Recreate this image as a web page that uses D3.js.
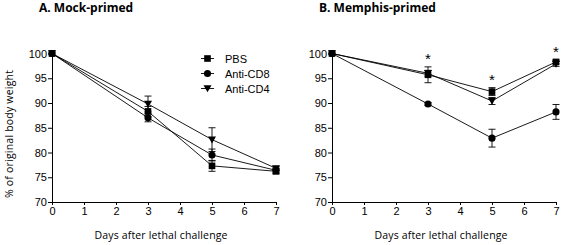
<!DOCTYPE html>
<html>
<head>
<meta charset="utf-8">
<script src="https://cdn.jsdelivr.net/npm/d3@7"></script>
<style>
  body { margin: 0; background: #fff; }
  svg { display: block; }
  .tick text { font-family: "Liberation Sans", Arial, sans-serif; font-size: 11px; fill: #000; }
  .domain, .tick line { stroke: #000; stroke-width: 1; }
</style>
</head>
<body>
<div id="chart"></div>
<script>
// days on the x axis
const days = [0, 3, 5, 7];
const series = ['PBS', 'Anti-CD8', 'Anti-CD4'];
const yTicks = [70, 75, 80, 85, 90, 95, 100];
const xTicks = [0, 1, 2, 3, 4, 5, 6, 7];

// A. Mock-primed: means and error bars (SEM)
const mockPBS = [100, 88.3, 77.3, 76.2];
const mockPBSErr = [0, 1.0, 1.1, 0.5];
const mockCD8 = [100, 87.0, 79.5, 76.4];
const mockCD8Err = [0, 0.8, 1.2, 0.5];
const mockCD4 = [100, 89.8, 82.6, 76.8];
const mockCD4Err = [0, 1.6, 2.4, 0.4];

// B. Memphis-primed
const memPBS = [100, 95.7, 92.3, 98.3];
const memPBSErr = [0, 1.6, 0.8, 0.4];
const memCD8 = [100, 89.8, 82.9, 88.2];
const memCD8Err = [0, 0.3, 1.8, 1.5];
const memCD4 = [100, 96.0, 90.4, 97.9];
const memCD4Err = [0, 0.6, 0.7, 0.5];
const memStars = [3, 5, 7];

const W = 563, H = 245;
const svg = d3.select('#chart').append('svg')
  .attr('width', W).attr('height', H);

const y = d3.scaleLinear().domain([70, 100]).range([202, 53.5]);

function drawPanel(opts) {
  const x = d3.scaleLinear().domain([0, 7]).range([opts.x0, opts.x0 + 224]);
  const g = svg.append('g');

  // axes
  g.append('g')
    .attr('transform', `translate(0,${y(70)})`)
    .call(d3.axisBottom(x).tickValues(xTicks).tickFormat(d3.format('d'))
      .tickSize(3).tickSizeOuter(0).tickPadding(2));
  g.append('g')
    .attr('transform', `translate(${opts.x0},0)`)
    .call(d3.axisLeft(y).tickValues(yTicks).tickFormat(d3.format('d'))
      .tickSize(4).tickSizeOuter(0).tickPadding(1));

  const groups = [
    { name: series[0], vals: opts.pbs, err: opts.pbsErr, shape: d3.symbolSquare, size: 44 },
    { name: series[1], vals: opts.cd8, err: opts.cd8Err, shape: d3.symbolCircle, size: 40 },
    { name: series[2], vals: opts.cd4, err: opts.cd4Err, shape: 'tri', size: 0 }
  ];

  const line = d3.line().x(d => x(d.day)).y(d => y(d.v));

  groups.forEach(s => {
    const pts = days.map((d, i) => ({ day: d, v: s.vals[i], e: s.err[i] }));
    g.append('path')
      .datum(pts)
      .attr('d', line)
      .attr('fill', 'none')
      .attr('stroke', '#000')
      .attr('stroke-width', 0.9);

    // error bars
    const eb = g.selectAll(null)
      .data(pts.filter(p => p.e > 0))
      .enter().append('g');
    eb.append('line')
      .attr('x1', p => x(p.day)).attr('x2', p => x(p.day))
      .attr('y1', p => y(p.v - p.e)).attr('y2', p => y(p.v + p.e))
      .attr('stroke', '#000').attr('stroke-width', 0.9);
    eb.append('line')
      .attr('x1', p => x(p.day) - 3.5).attr('x2', p => x(p.day) + 3.5)
      .attr('y1', p => y(p.v + p.e)).attr('y2', p => y(p.v + p.e))
      .attr('stroke', '#000').attr('stroke-width', 0.9);
    eb.append('line')
      .attr('x1', p => x(p.day) - 3.5).attr('x2', p => x(p.day) + 3.5)
      .attr('y1', p => y(p.v - p.e)).attr('y2', p => y(p.v - p.e))
      .attr('stroke', '#000').attr('stroke-width', 0.9);

    // markers
    g.selectAll(null)
      .data(pts)
      .enter().append('path')
      .attr('transform', p => `translate(${x(p.day)},${y(p.v)})`)
      .attr('d', s.shape === 'tri' ? 'M-4,-3.2L4,-3.2L0,3.8Z' : d3.symbol().type(s.shape).size(s.size)())
      .attr('fill', '#000');
  });

  // significance stars
  if (opts.stars) {
    g.selectAll(null)
      .data(opts.stars)
      .enter().append('text')
      .attr('x', d => x(d))
      .attr('y', d => {
        const i = days.indexOf(d);
        const top = d3.max(groups, s => s.vals[i] + s.err[i]);
        return y(top) - 3;
      })
      .attr('text-anchor', 'middle')
      .attr('font-family', 'Liberation Sans, Arial, sans-serif')
      .attr('font-size', 15)
      .text('*');
  }

  // legend
  if (opts.legend) {
    const lg = g.append('g');
    groups.forEach((s, i) => {
      const ly = 58.5 + i * 15;
      lg.append('line')
        .attr('x1', 201).attr('x2', 214).attr('y1', ly).attr('y2', ly)
        .attr('stroke', '#000').attr('stroke-width', 0.9);
      lg.append('path')
        .attr('transform', `translate(207.5,${ly})`)
        .attr('d', s.shape === 'tri' ? 'M-4,-3.2L4,-3.2L0,3.8Z' : d3.symbol().type(s.shape).size(s.size)())
        .attr('fill', '#000');
      lg.append('text')
        .attr('x', 225).attr('y', ly + 4)
        .attr('font-family', 'Liberation Sans, Arial, sans-serif')
        .attr('font-size', 11)
        .text(s.name);
    });
  }

  // titles
  svg.append('text')
    .attr('x', opts.titleX).attr('y', 12)
    .attr('font-family', 'Open Sans, sans-serif')
    .attr('font-weight', 'bold')
    .attr('font-size', 12)
    .text(opts.title);

  svg.append('text')
    .attr('x', opts.x0 + 109).attr('y', 239)
    .attr('text-anchor', 'middle')
    .attr('font-family', 'Open Sans, sans-serif')
    .attr('font-size', 10.5)
    .attr('textLength', 133)
    .text('Days after lethal challenge');
}

drawPanel({
  x0: 52, titleX: 39, title: 'A. Mock-primed', legend: true,
  pbs: mockPBS, pbsErr: mockPBSErr, cd8: mockCD8, cd8Err: mockCD8Err, cd4: mockCD4, cd4Err: mockCD4Err
});
drawPanel({
  x0: 332, titleX: 319, title: 'B. Memphis-primed', stars: memStars,
  pbs: memPBS, pbsErr: memPBSErr, cd8: memCD8, cd8Err: memCD8Err, cd4: memCD4, cd4Err: memCD4Err
});

// y axis title (left panel only)
svg.append('text')
  .attr('transform', 'translate(13,134) rotate(-90)')
  .attr('text-anchor', 'middle')
  .attr('font-family', 'Open Sans, sans-serif')
  .attr('font-size', 10.5)
  .attr('textLength', 128)
  .text('% of original body weight');
</script>
</body>
</html>
